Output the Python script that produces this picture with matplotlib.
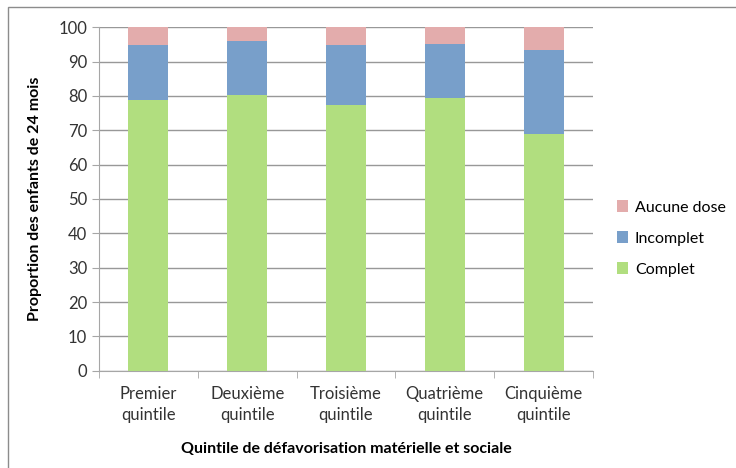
import numpy as np
import matplotlib.pyplot as plt
from matplotlib.patches import Rectangle

plt.rcParams['font.family'] = ['Lato', 'DejaVu Sans']

# Données
quintiles = ['Premier\nquintile', 'Deuxième\nquintile', 'Troisième\nquintile',
             'Quatrième\nquintile', 'Cinquième\nquintile']
complet = np.array([78.8, 80.2, 77.3, 79.4, 68.9])
incomplet = np.array([16.0, 15.8, 17.5, 15.6, 24.6])
aucune = np.array([5.2, 4.0, 5.2, 5.0, 6.5])

fig = plt.figure(figsize=(7.36, 4.68), dpi=100)
ax = fig.add_axes([0.1345, 0.2079, 0.6712, 0.7338])

x = np.arange(len(quintiles))
w = 0.405
ax.bar(x, complet, w, color='#b1de7f', label='Complet', zorder=3)
ax.bar(x, incomplet, w, bottom=complet, color='#789fca', label='Incomplet', zorder=3)
ax.bar(x, aucune, w, bottom=complet + incomplet, color='#e3acac', label='Aucune dose', zorder=3)

ax.set_xlim(-0.5, len(quintiles) - 0.5)
ax.set_ylim(0, 100)
ax.set_yticks(range(0, 101, 10))
ax.yaxis.grid(True, color='#989898', linewidth=1, zorder=0)

for s in ['top', 'right']:
    ax.spines[s].set_visible(False)
for s in ['left', 'bottom']:
    ax.spines[s].set_color('#a6a6a6')

ax.set_xticks(x)
ax.set_xticklabels(quintiles, fontsize=12, color='#333333', linespacing=1.35)
ax.tick_params(axis='x', length=0, pad=11)
ax.set_xticks(np.arange(-0.5, len(quintiles)), minor=True)
ax.tick_params(axis='x', which='minor', length=5, color='#a6a6a6')
ax.tick_params(axis='y', labelsize=12, length=5, color='#a6a6a6', labelcolor='#333333')

ax.set_xlabel('Quintile de défavorisation matérielle et sociale', fontsize=11.5,
              fontweight='bold', labelpad=14)
ax.set_ylabel('Proportion des enfants de 24 mois', fontsize=11.5,
              fontweight='bold', labelpad=12)

h, l = ax.get_legend_handles_labels()
leg = ax.legend(h[::-1], l[::-1], loc='center left', bbox_to_anchor=(1.02, 0.385),
                frameon=False, fontsize=11.5, handlelength=0.7, handleheight=0.7,
                labelspacing=1.05, handletextpad=0.4)

# bordure du graphique
fig.patches.append(Rectangle((8 / 736, -0.05), 1.1, 1 - 7 / 468 + 0.05,
                             transform=fig.transFigure, fill=False,
                             edgecolor='#8c8c8c', linewidth=1))

fig.savefig('out.png', dpi=100)
